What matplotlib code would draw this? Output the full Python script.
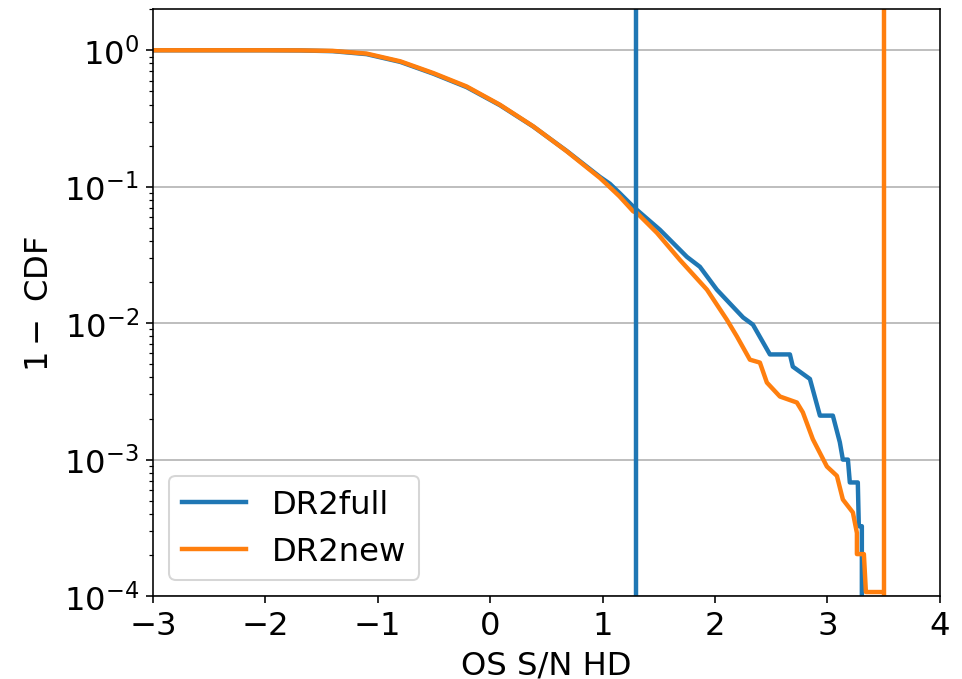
import numpy as np
import matplotlib
matplotlib.use("Agg")
import matplotlib.pyplot as plt

# survival curves (x = OS S/N HD, y = 1 - CDF)
full_x = [-3.0, -2.0, -1.69, -1.4, -1.1, -0.8, -0.507, -0.21, 0.086, 0.383, 0.68, 0.976,
          1.065, 1.15, 1.272, 1.305, 1.51, 1.75, 1.865, 2.016, 2.159, 2.25, 2.337, 2.488, 2.666, 2.692,
          2.844, 2.933, 3.048, 3.11, 3.137, 3.182, 3.199, 3.27, 3.279, 3.306, 3.306]
full_y = [1.0, 1.0, 0.997, 0.985, 0.937, 0.822, 0.674, 0.537, 0.396, 0.276, 0.183, 0.118,
          0.105, 0.090, 0.0715, 0.0676, 0.0483, 0.0306, 0.0259, 0.0176, 0.0132, 0.0110, 0.00975, 0.0059,
          0.0059, 0.0048, 0.0039, 0.0021, 0.0021, 0.00134, 0.0010, 0.0010, 0.00068, 0.00068, 0.000325,
          0.000325, 5e-5]

new_x = [-3.0, -2.0, -1.69, -1.4, -1.1, -0.8, -0.507, -0.21, 0.086, 0.383, 0.68, 0.976,
         1.038, 1.15, 1.272, 1.305, 1.483, 1.687, 1.928, 2.105, 2.194, 2.31, 2.399, 2.461, 2.577, 2.728,
         2.781, 2.87, 2.995, 3.084, 3.137, 3.226, 3.262, 3.262, 3.324, 3.342, 3.5]
new_y = [1.0, 1.0, 0.998, 0.99, 0.946, 0.830, 0.681, 0.543, 0.399, 0.277, 0.182, 0.116,
         0.104, 0.085, 0.066, 0.0643, 0.0459, 0.0291, 0.0176, 0.0106, 0.0080, 0.0054, 0.00514, 0.00367,
         0.0029, 0.00262, 0.00222, 0.00141, 0.00089, 0.00076, 0.00051, 0.00041, 0.00029, 0.000203,
         0.000203, 1.07e-4, 1.07e-4]

full_thresh = 1.3
new_thresh = 3.5

plt.rcParams["font.size"] = 16

fig = plt.figure(figsize=(962 / 145, 680 / 145), dpi=145)
ax = fig.add_axes([0.159, 0.122, 0.818, 0.863])

ax.plot(full_x, full_y, color="C0", lw=2.2, label="DR2full")
ax.plot(new_x, new_y, color="C1", lw=2.2, label="DR2new")
ax.axvline(full_thresh, color="C0", lw=2.2)
ax.axvline(new_thresh, color="C1", lw=2.2)

ax.set_yscale("log")
ax.set_xlim(-3, 4)
ax.set_ylim(1e-4, 2)
ax.grid(axis="y", which="major")
ax.set_xlabel("OS S/N HD")
ax.set_ylabel(r"$1-$ CDF")
ax.legend(loc="lower left")

fig.savefig("out.png", dpi=145)
